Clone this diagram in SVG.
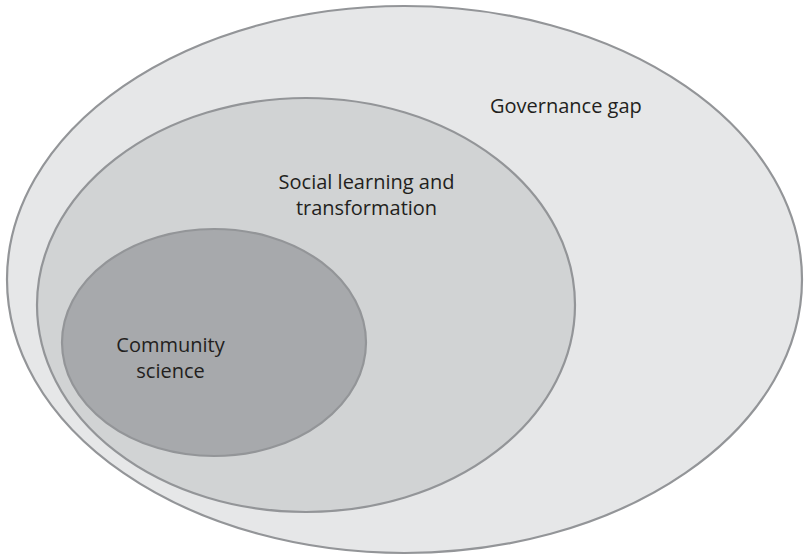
<svg xmlns="http://www.w3.org/2000/svg" width="805" height="558" viewBox="0 0 805 558">
<style>
.e{stroke:#939598;stroke-width:2.2}
.t{font-family:"Open Sans","Liberation Sans",sans-serif;font-size:20px;fill:#231f20}
</style>
<rect width="805" height="558" fill="#ffffff"/>
<g id="governance-gap">
<ellipse class="e" cx="404.5" cy="279.5" rx="397.5" ry="273.5" fill="#e6e7e8"/>
<text class="t" x="490" y="113">Governance gap</text>
</g>
<g id="social-learning">
<ellipse class="e" cx="306" cy="305" rx="269" ry="207" fill="#d1d3d4"/>
<text class="t" text-anchor="middle"><tspan x="366.5" y="189">Social learning and</tspan><tspan x="366.5" y="215">transformation</tspan></text>
</g>
<g id="community-science">
<ellipse class="e" cx="214" cy="342.5" rx="152" ry="113.5" fill="#a7a9ac"/>
<text class="t" text-anchor="middle"><tspan x="170.5" y="352">Community</tspan><tspan x="170.5" y="378">science</tspan></text>
</g>
<g id="connectors"/>
</svg>
